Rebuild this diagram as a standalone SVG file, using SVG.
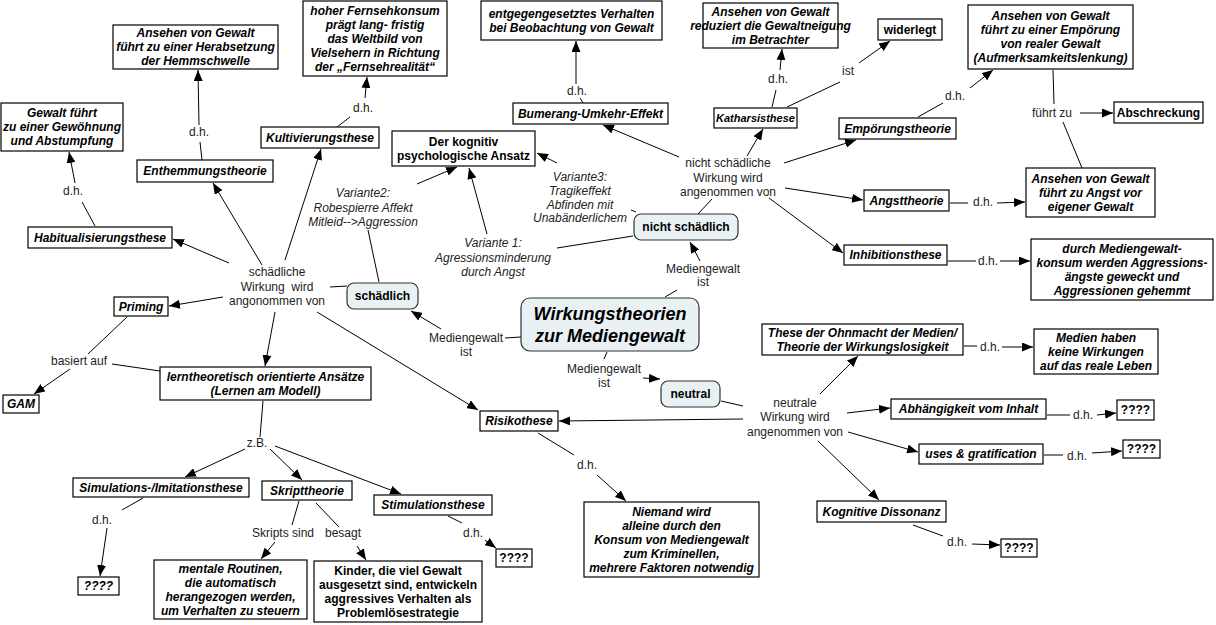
<svg xmlns="http://www.w3.org/2000/svg" width="1216" height="625" viewBox="0 0 1216 625">
<style>
text{font-family:"Liberation Sans",Arial,sans-serif;font-size:12px;text-anchor:middle;fill:#000}
.bi{font-weight:bold;font-style:italic}
.b{font-weight:bold}
.l{fill:#222}
.li{fill:#222;font-style:italic}
.main{font-size:18px;font-weight:bold;font-style:italic}
rect.n{fill:#fff;stroke:#000;stroke-width:1.2}
rect.r{fill:#e9f1f4;stroke:#333;stroke-width:1.2}
#connectors line{stroke:#000;stroke-width:1}
#connectors line.a{marker-end:url(#arr)}
</style>
<defs>
<marker id="arr" viewBox="0 0 11 9" refX="11" refY="4.5" markerWidth="11" markerHeight="9" markerUnits="userSpaceOnUse" orient="auto"><path d="M0,0 L11,4.5 L0,9 z" fill="#000"/></marker>
</defs>
<rect width="1216" height="625" fill="#fff"/>

<g id="connectors">
<line x1="521" y1="337" x2="505" y2="338"/>
<line class="a" x1="441" y1="329" x2="411" y2="311"/>
<line x1="665" y1="297" x2="677" y2="290"/>
<line class="a" x1="700" y1="261" x2="690" y2="242"/>
<line x1="607" y1="352" x2="604" y2="359"/>
<line class="a" x1="643" y1="378" x2="660" y2="379"/>
<line x1="347" y1="286" x2="330" y2="287"/>
<line x1="379" y1="282" x2="368" y2="230"/>
<line class="a" x1="417" y1="184" x2="457" y2="167"/>
<line x1="633" y1="236" x2="557" y2="248"/>
<line class="a" x1="487" y1="234" x2="469" y2="168"/>
<line x1="636" y1="212" x2="631" y2="210"/>
<line class="a" x1="557" y1="163" x2="537" y2="153"/>
<line x1="698" y1="214" x2="712" y2="199"/>
<line class="a" x1="679" y1="157" x2="603" y2="125"/>
<line class="a" x1="747" y1="156" x2="763" y2="129"/>
<line class="a" x1="784" y1="163" x2="856" y2="140"/>
<line class="a" x1="785" y1="188" x2="863" y2="200"/>
<line class="a" x1="769" y1="198" x2="843" y2="253"/>
<line x1="772" y1="107" x2="776" y2="90"/>
<line class="a" x1="780" y1="70" x2="782" y2="49"/>
<line x1="787" y1="107" x2="840" y2="82"/>
<line class="a" x1="859" y1="63" x2="890" y2="41"/>
<line x1="583" y1="103" x2="580" y2="98"/>
<line class="a" x1="576" y1="84" x2="576" y2="41"/>
<line x1="918" y1="117" x2="943" y2="103"/>
<line class="a" x1="970" y1="88" x2="993" y2="70"/>
<line x1="1053" y1="70" x2="1054" y2="104"/>
<line x1="1082" y1="168" x2="1063" y2="122"/>
<line class="a" x1="1080" y1="113" x2="1113" y2="113"/>
<line x1="950" y1="203" x2="968" y2="203"/>
<line class="a" x1="997" y1="203" x2="1025" y2="202"/>
<line x1="948" y1="261" x2="976" y2="261"/>
<line class="a" x1="1000" y1="261" x2="1030" y2="261"/>
<line x1="721" y1="401" x2="743" y2="406"/>
<line class="a" x1="820" y1="394" x2="858" y2="356"/>
<line class="a" x1="847" y1="413" x2="890" y2="408"/>
<line class="a" x1="848" y1="432" x2="918" y2="452"/>
<line class="a" x1="818" y1="441" x2="879" y2="500"/>
<line class="a" x1="743" y1="419" x2="559" y2="421"/>
<line x1="964" y1="346" x2="977" y2="346"/>
<line class="a" x1="1002" y1="347" x2="1033" y2="347"/>
<line x1="1047" y1="415" x2="1070" y2="415"/>
<line class="a" x1="1097" y1="415" x2="1116" y2="413"/>
<line x1="1044" y1="455" x2="1063" y2="455"/>
<line class="a" x1="1092" y1="453" x2="1122" y2="451"/>
<line x1="913" y1="525" x2="943" y2="536"/>
<line class="a" x1="972" y1="544" x2="1000" y2="545"/>
<line x1="538" y1="433" x2="574" y2="455"/>
<line class="a" x1="597" y1="475" x2="626" y2="501"/>
<line class="a" x1="229" y1="263" x2="173" y2="239"/>
<line class="a" x1="223" y1="297" x2="169" y2="306"/>
<line class="a" x1="262" y1="265" x2="213" y2="183"/>
<line class="a" x1="285" y1="260" x2="321" y2="149"/>
<line class="a" x1="275" y1="312" x2="265" y2="366"/>
<line class="a" x1="317" y1="312" x2="478" y2="410"/>
<line x1="95" y1="226" x2="82" y2="202"/>
<line class="a" x1="75" y1="183" x2="69" y2="152"/>
<line x1="202" y1="160" x2="200" y2="142"/>
<line class="a" x1="199" y1="125" x2="198" y2="70"/>
<line x1="337" y1="127" x2="350" y2="117"/>
<line class="a" x1="365" y1="98" x2="367" y2="77"/>
<line x1="127" y1="317" x2="88" y2="354"/>
<line class="a" x1="70" y1="369" x2="34" y2="394"/>
<line x1="160" y1="371" x2="112" y2="364"/>
<line x1="263" y1="401" x2="260" y2="437"/>
<line class="a" x1="245" y1="449" x2="185" y2="477"/>
<line class="a" x1="270" y1="449" x2="302" y2="480"/>
<line class="a" x1="275" y1="446" x2="401" y2="494"/>
<line x1="143" y1="498" x2="122" y2="510"/>
<line class="a" x1="107" y1="528" x2="100" y2="576"/>
<line x1="299" y1="501" x2="292" y2="525"/>
<line class="a" x1="275" y1="542" x2="261" y2="559"/>
<line x1="316" y1="503" x2="339" y2="527"/>
<line class="a" x1="357" y1="546" x2="366" y2="560"/>
<line x1="448" y1="516" x2="462" y2="523"/>
<line class="a" x1="485" y1="540" x2="496" y2="548"/>
</g>

<g id="link-labels">
<text class="l" x="73" y="195">d.h.</text>
<text class="l" x="199" y="136">d.h.</text>
<text class="l" x="363" y="112">d.h.</text>
<text class="l" x="577" y="95">d.h.</text>
<text class="l" x="778" y="83">d.h.</text>
<text class="l" x="848" y="75">ist</text>
<text class="l" x="955" y="100">d.h.</text>
<text class="l" x="1052" y="117">führt zu</text>
<text class="l" x="983" y="206">d.h.</text>
<text class="l" x="988" y="265">d.h.</text>
<text class="l" x="990" y="351">d.h.</text>
<text class="l" x="1083" y="419">d.h.</text>
<text class="l" x="1077" y="460">d.h.</text>
<text class="l" x="957" y="546">d.h.</text>
<text class="l" x="587" y="469">d.h.</text>
<text class="l" x="473" y="537">d.h.</text>
<text class="l" x="102" y="524">d.h.</text>
<text class="l" x="257" y="447">z.B.</text>
<text class="l" x="283" y="537">Skripts sind</text>
<text class="l" x="343" y="537">besagt</text>
<text class="l" x="79" y="365">basiert auf</text>
<text class="l" x="277" y="276">schädliche</text>
<text class="l" x="277" y="291" style="white-space:pre">Wirkung  wird</text>
<text class="l" x="277" y="305">angonommen von</text>
<text class="l" x="728" y="167">nicht schädliche</text>
<text class="l" x="728" y="182">Wirkung wird</text>
<text class="l" x="728" y="196">angenommen von</text>
<text class="l" x="795" y="407">neutrale</text>
<text class="l" x="795" y="421">Wirkung wird</text>
<text class="l" x="795" y="436">angenommen von</text>
<text class="l" x="466" y="342">Mediengewalt</text>
<text class="l" x="466" y="356">ist</text>
<text class="l" x="703" y="273">Mediengewalt</text>
<text class="l" x="703" y="286">ist</text>
<text class="l" x="604" y="373">Mediengewalt</text>
<text class="l" x="604" y="387">ist</text>
<text class="li" x="363" y="197">Variante2:</text>
<text class="li" x="363" y="211.5">Robespierre Affekt</text>
<text class="li" x="363" y="226">Mitleid--&gt;Aggression</text>
<text class="li" x="493" y="247">Variante 1:</text>
<text class="li" x="493" y="262">Agressionsminderung</text>
<text class="li" x="493" y="276">durch Angst</text>
<text class="li" x="580" y="181">Variante3:</text>
<text class="li" x="580" y="195">Tragikeffekt</text>
<text class="li" x="580" y="209">Abfinden mit</text>
<text class="li" x="580" y="222">Unabänderlichem</text>
</g>

<g id="n-herabsetzung"><rect class="n" x="113" y="25" width="165" height="44"/>
<text class="bi" x="195.5" y="37">Ansehen von Gewalt</text><text class="bi" x="195.5" y="51">führt zu einer Herabsetzung</text><text class="bi" x="195.5" y="65">der Hemmschwelle</text></g>
<g id="n-fernsehkonsum"><rect class="n" x="303" y="1" width="144" height="75"/>
<text class="bi" x="375" y="15">hoher Fernsehkonsum</text><text class="bi" x="375" y="29">prägt lang- fristig</text><text class="bi" x="375" y="43">das Weltbild von</text><text class="bi" x="375" y="57">Vielsehern in Richtung</text><text class="bi" x="375" y="71">der „Fernsehrealität“</text></g>
<g id="n-entgegengesetzt"><rect class="n" x="481" y="1" width="181" height="39"/>
<text class="bi" x="571.5" y="17.5">entgegengesetztes Verhalten</text><text class="bi" x="571.5" y="31.5">bei Beobachtung von Gewalt</text></g>
<g id="n-reduziert"><rect class="n" x="703" y="3" width="135" height="45"/>
<text class="bi" x="770.5" y="16">Ansehen von Gewalt</text><text class="bi" x="770.5" y="30">reduziert die Gewaltneigung</text><text class="bi" x="770.5" y="44">im Betrachter</text></g>
<g id="n-widerlegt"><rect class="n" x="878" y="19" width="64" height="21"/>
<text class="b" x="910" y="33.5">widerlegt</text></g>
<g id="n-empoerung"><rect class="n" x="968" y="5" width="165" height="64"/>
<text class="bi" x="1050.5" y="20">Ansehen von Gewalt</text><text class="bi" x="1050.5" y="34">führt zu einer Empörung</text><text class="bi" x="1050.5" y="48">von realer Gewalt</text><text class="bi" x="1050.5" y="62">(Aufmerksamkeitslenkung)</text></g>
<g id="n-gewoehnung"><rect class="n" x="1" y="103" width="122" height="48"/>
<text class="bi" x="62" y="117">Gewalt führt</text><text class="bi" x="62" y="131">zu einer Gewöhnung</text><text class="bi" x="62" y="145">und Abstumpfung</text></g>
<g id="n-abschreckung"><rect class="n" x="1114" y="102" width="89" height="21"/>
<text class="b" x="1158.5" y="116.5">Abschreckung</text></g>
<g id="n-bumerang"><rect class="n" x="513" y="103" width="155" height="21"/>
<text class="bi" x="590.5" y="117.5">Bumerang-Umkehr-Effekt</text></g>
<g id="n-katharsis"><rect class="n" x="714" y="108" width="83" height="20"/>
<text class="bi" x="755.5" y="122" style="font-size:11px">Katharsisthese</text></g>
<g id="n-empoerungstheorie"><rect class="n" x="839" y="118" width="117" height="21"/>
<text class="bi" x="897.5" y="132.5">Empörungstheorie</text></g>
<g id="n-kultivierung"><rect class="n" x="261" y="127" width="118" height="21"/>
<text class="bi" x="320" y="141.5">Kultivierungsthese</text></g>
<g id="n-kognitiv"><rect class="n" x="392" y="131" width="143" height="35"/>
<text class="b" x="463.5" y="145.5">Der kognitiv</text><text class="b" x="463.5" y="159.5">psychologische Ansatz</text></g>
<g id="n-enthemmung"><rect class="n" x="137" y="160" width="136" height="22"/>
<text class="bi" x="205" y="175">Enthemmungstheorie</text></g>
<g id="n-angstvor"><rect class="n" x="1026" y="168" width="129" height="49"/>
<text class="bi" x="1090.5" y="182.5">Ansehen von Gewalt</text><text class="bi" x="1090.5" y="196.5">führt zu Angst vor</text><text class="bi" x="1090.5" y="210.5">eigener Gewalt</text></g>
<g id="n-angsttheorie"><rect class="n" x="864" y="190" width="85" height="21"/>
<text class="bi" x="906.5" y="204.5">Angsttheorie</text></g>
<g id="n-nichtschaedlich"><rect class="r" x="634" y="214" width="104" height="26" rx="7"/>
<text class="b" x="686" y="231">nicht schädlich</text></g>
<g id="n-habitualisierung"><rect class="n" x="28" y="227" width="144" height="21"/>
<text class="bi" x="100" y="241.5">Habitualisierungsthese</text></g>
<g id="n-inhibition"><rect class="n" x="844" y="245" width="103" height="20"/>
<text class="bi" x="895.5" y="259">Inhibitionsthese</text></g>
<g id="n-durch"><rect class="n" x="1031" y="239" width="182" height="61"/>
<text class="bi" x="1122" y="252.5">durch Mediengewalt-</text><text class="bi" x="1122" y="266.5">konsum werden Aggressions-</text><text class="bi" x="1122" y="280.5">ängste geweckt und</text><text class="bi" x="1122" y="294.5">Aggressionen gehemmt</text></g>
<g id="n-schaedlich"><rect class="r" x="347" y="283" width="71" height="26" rx="7"/>
<text class="b" x="382.5" y="300">schädlich</text></g>
<g id="n-priming"><rect class="n" x="114" y="297" width="54" height="19"/>
<text class="bi" x="141" y="310.5">Priming</text></g>
<g id="n-main"><rect class="r" x="521" y="298" width="178" height="53" rx="9"/>
<text class="main" x="610" y="319.5">Wirkungstheorien</text><text class="main" x="610" y="341.5">zur Mediengewalt</text></g>
<g id="n-ohnmacht"><rect class="n" x="762" y="324" width="201" height="31"/>
<text class="bi" x="862.5" y="336.5">These der Ohnmacht der Medien/</text><text class="bi" x="862.5" y="350.5">Theorie der Wirkungslosigkeit</text></g>
<g id="n-keinewirkung"><rect class="n" x="1034" y="329" width="124" height="45"/>
<text class="bi" x="1096" y="341.5">Medien haben</text><text class="bi" x="1096" y="355.5">keine Wirkungen</text><text class="bi" x="1096" y="369.5">auf das reale Leben</text></g>
<g id="n-lerntheoretisch"><rect class="n" x="160" y="367" width="211" height="33"/>
<text class="bi" x="265.5" y="380.5">lerntheoretisch orientierte Ansätze</text><text class="bi" x="265.5" y="394.5">(Lernen am Modell)</text></g>
<g id="n-neutral"><rect class="r" x="661" y="381" width="59" height="26" rx="7"/>
<text class="b" x="690.5" y="398">neutral</text></g>
<g id="n-gam"><rect class="n" x="3" y="395" width="36" height="18"/>
<text class="bi" x="21" y="408">GAM</text></g>
<g id="n-abhaengigkeit"><rect class="n" x="891" y="399" width="155" height="20"/>
<text class="bi" x="968.5" y="413">Abhängigkeit vom Inhalt</text></g>
<g id="n-q1"><rect class="n" x="1117" y="400" width="37" height="20"/>
<text class="b" x="1135.5" y="414">????</text></g>
<g id="n-risikothese"><rect class="n" x="480" y="411" width="78" height="20"/>
<text class="bi" x="519" y="425">Risikothese</text></g>
<g id="n-uses"><rect class="n" x="919" y="444" width="124" height="20"/>
<text class="bi" x="981" y="458">uses &amp; gratification</text></g>
<g id="n-q2"><rect class="n" x="1123" y="440" width="37" height="18"/>
<text class="b" x="1141.5" y="453">????</text></g>
<g id="n-simulation"><rect class="n" x="73" y="478" width="176" height="19"/>
<text class="bi" x="161" y="491.5">Simulations-/Imitationsthese</text></g>
<g id="n-skript"><rect class="n" x="262" y="481" width="90" height="19"/>
<text class="bi" x="307" y="494.5">Skripttheorie</text></g>
<g id="n-stimulation"><rect class="n" x="374" y="495" width="118" height="20"/>
<text class="bi" x="433" y="509">Stimulationsthese</text></g>
<g id="n-niemand"><rect class="n" x="584" y="502" width="175" height="75"/>
<text class="bi" x="671.5" y="515.5">Niemand wird</text><text class="bi" x="671.5" y="529.5">alleine durch den</text><text class="bi" x="671.5" y="543.5">Konsum von Mediengewalt</text><text class="bi" x="671.5" y="557.5">zum Kriminellen,</text><text class="bi" x="671.5" y="571.5">mehrere Faktoren notwendig</text></g>
<g id="n-dissonanz"><rect class="n" x="817" y="501" width="129" height="21"/>
<text class="bi" x="881.5" y="515.5">Kognitive Dissonanz</text></g>
<g id="n-q3"><rect class="n" x="1001" y="539" width="36" height="18"/>
<text class="b" x="1019" y="552">????</text></g>
<g id="n-q4"><rect class="n" x="496" y="549" width="36" height="18"/>
<text class="b" x="514" y="562">????</text></g>
<g id="n-mentale"><rect class="n" x="154" y="560" width="153" height="59"/>
<text class="bi" x="230.5" y="572.5">mentale Routinen,</text><text class="bi" x="230.5" y="586.5">die automatisch</text><text class="bi" x="230.5" y="600.5">herangezogen werden,</text><text class="bi" x="230.5" y="614.5">um Verhalten zu steuern</text></g>
<g id="n-kinder"><rect class="n" x="314" y="561" width="168" height="61"/>
<text class="b" x="398" y="575">Kinder, die viel Gewalt</text><text class="b" x="398" y="589">ausgesetzt sind, entwickeln</text><text class="b" x="398" y="603">aggressives Verhalten als</text><text class="b" x="398" y="617">Problemlösestrategie</text></g>
<g id="n-q5"><rect class="n" x="78" y="577" width="41" height="18"/>
<text class="bi" x="98.5" y="590">????</text></g>
</svg>
